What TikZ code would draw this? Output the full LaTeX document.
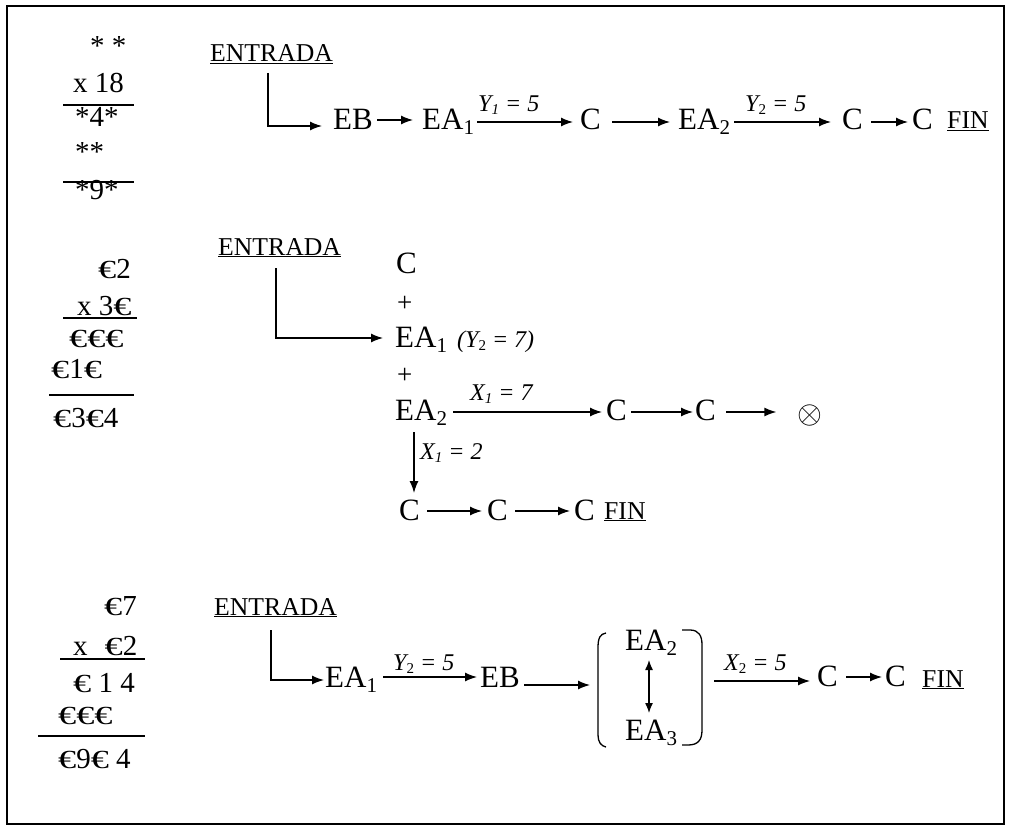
\documentclass[tikz,border=0pt]{standalone}
\usepackage{fontspec}
\setmainfont{Liberation Serif}
\usetikzlibrary{arrows.meta}
\newcommand\eur{\scalebox{1.25}[0.9]{€}}
\newcommand\sbig[1]{\raisebox{-5pt}{\fontsize{21}{21}\selectfont #1}}
\newcommand\ssm[1]{\raisebox{-3pt}{\fontsize{15}{15}\selectfont #1}}
\begin{document}
\begin{tikzpicture}[x=1pt,y=1pt,
  big/.style={inner sep=0pt, anchor=base west, font=\fontsize{31}{36}\selectfont},
  ent/.style={inner sep=0pt, anchor=base west, font=\fontsize{25.7}{30}\selectfont},
  lab/.style={inner sep=0pt, anchor=base west, font=\fontsize{24}{28}\selectfont\itshape},
  labs/.style={inner sep=0pt, anchor=base west, font=\fontsize{24}{28}\selectfont\itshape},
  num/.style={inner sep=0pt, anchor=base west, font=\fontsize{29}{34}\selectfont},
  pl/.style={inner sep=0pt, anchor=base west, font=\fontsize{27}{30}\selectfont},
  ox/.style={inner sep=0pt, anchor=center, font=\normalsize},
  arr/.style={-{Latex[length=12pt,width=9pt]}, line width=1.3pt},
  darr/.style={{Latex[length=10pt,width=8pt]}-{Latex[length=10pt,width=8pt]}, line width=1.3pt},
  rulel/.style={line width=1.3pt},
  brk/.style={line width=1.3pt}]
\useasboundingbox (0,0) rectangle (1011,-826);
\draw[line width=1.5pt] (7,-6) rectangle (1004,-824);

% ---------- section 1 ----------
\node[num] (a1) at (90,-56) {* *};
\node[num] (a2) at (73,-93) {x 18};
\draw[rulel] (63,-105) -- (134,-105);
\node[num] (a3) at (75,-127) {*4*};
\node[num] (a4) at (75,-162) {**};
\draw[rulel] (63,-182) -- (134,-182);
\node[num] (a5) at (75,-200) {*9*};

\node[ent] (e1) at (210,-62) {\underline{ENTRADA}};
\node[big] (eb1) at (333,-130) {EB};
\node[big] (ea11) at (422,-130) {EA\sbig{1}};
\node[big] (c11) at (580,-130) {C};
\node[big] (ea21) at (678,-130) {EA\sbig{2}};
\node[big] (c12) at (842,-130) {C};
\node[big] (c13) at (912,-130) {C};
\node[ent] (f1) at (947,-129) {\underline{FIN}};
\node[lab] (l11) at (478,-112) {Y\ssm{1} = 5};
\node[lab] (l12) at (745,-112) {Y\ssm{\upshape 2} = 5};

\draw[arr] ([shift={(58,-11)}]e1.base west) |- ([shift={(-11,4)}]eb1.base west);
\draw[arr] ([shift={(4,10)}]eb1.base east) -- ([shift={(-9,10)}]ea11.base west);
\draw[arr] ([shift={(3,8)}]ea11.base east) -- ([shift={(-7,8)}]c11.base west);
\draw[arr] ([shift={(11,8)}]c11.base east) -- ([shift={(-8,8)}]ea21.base west);
\draw[arr] ([shift={(4,8)}]ea21.base east) -- ([shift={(-11,8)}]c12.base west);
\draw[arr] ([shift={(8,8)}]c12.base east) -- ([shift={(-4,8)}]c13.base west);

% ---------- section 2 ----------
\node[num] (b1) at (98,-278) {\eur2};
\node[num] (b2) at (77,-315) {x 3\eur};
\draw[rulel] (63,-318) -- (137,-318);
\node[num] (b3) at (69,-347) {\eur\eur\eur};
\node[num] (b4) at (51,-378) {\eur1\eur};
\draw[rulel] (49,-395) -- (134,-395);
\node[num] (b5) at (53,-427) {\eur3\eur4};

\node[ent] (e2) at (218,-255) {\underline{ENTRADA}};
\node[big] (cA) at (396,-273) {C};
\node[pl] (p1) at (397,-311) {+};
\node[big] (ea12) at (395,-347) {EA\sbig{1}};
\node[labs] (l21) at (457,-347) {(Y\ssm{\upshape 2} = 7)};
\node[pl] (p2) at (397,-383) {+};
\node[big] (ea22) at (395,-420) {EA\sbig{2}};
\node[lab] (l22) at (470,-400) {X\ssm{1} = 7};
\node[big] (c21) at (606,-420) {C};
\node[big] (c22) at (695,-420) {C};
\node[ox] (ot) at (810,-415) {\scalebox{3.2}{$\otimes$}};
\node[lab] (l23) at (420,-459) {X\ssm{1} = 2};
\node[big] (c23) at (399,-520) {C};
\node[big] (c24) at (487,-520) {C};
\node[big] (c25) at (574,-520) {C};
\node[ent] (f2) at (604,-519) {\underline{FIN}};

\draw[arr] ([shift={(58,-13)}]e2.base west) |- ([shift={(-12,9)}]ea12.base west);
\draw[arr] ([shift={(6,8)}]ea22.base east) -- ([shift={(-4,8)}]c21.base west);
\draw[arr] ([shift={(4,8)}]c21.base east) -- ([shift={(-2,8)}]c22.base west);
\draw[arr] ([shift={(10,8)}]c22.base east) -- ([shift={(-21,3)}]ot.west);
\draw[arr] ([shift={(19,-12)}]ea22.base west) -- ([shift={(15,27)}]c23.base west);
\draw[arr] ([shift={(7,9)}]c23.base east) -- ([shift={(-5,9)}]c24.base west);
\draw[arr] ([shift={(7,9)}]c24.base east) -- ([shift={(-4,9)}]c25.base west);

% ---------- section 3 ----------
\node[num] (d1) at (104,-615) {\eur7};
\node[num] (d2) at (73,-655) {x\hspace{17pt}\eur2};
\draw[rulel] (60,-659) -- (145,-659);
\node[num] (d3) at (73,-692) {\eur\ 1 4};
\node[num] (d4) at (58,-724) {\eur\eur\eur};
\draw[rulel] (38,-736) -- (145,-736);
\node[num] (d5) at (58,-768) {\eur9\eur\ 4};

\node[ent] (e3) at (214,-615) {\underline{ENTRADA}};
\node[big] (ea13) at (325,-687) {EA\sbig{1}};
\node[lab] (l31) at (393,-670) {Y\ssm{\upshape 2} = 5};
\node[big] (eb3) at (480,-687) {EB};
\node[big] (ea23) at (625,-650) {EA\sbig{2}};
\node[big] (ea33) at (625,-740) {EA\sbig{3}};
\coordinate (brl) at (598,-685);
\coordinate (brr) at (702,-681);
\node[lab] (l32) at (724,-670) {X\ssm{\upshape 2} = 5};
\node[big] (c31) at (817,-686) {C};
\node[big] (c32) at (885,-686) {C};
\node[ent] (f3) at (922,-687) {\underline{FIN}};

\draw[brk] (606,-633) .. controls (600,-634) and (598,-638) .. (598,-648) -- (598,-735) .. controls (598,-742) and (601,-746) .. (606,-747);
\draw[brk] (682,-630) -- (690,-630) .. controls (699,-630) and (702,-636) .. (702,-645) -- (702,-730) .. controls (702,-740) and (698,-745) .. (688,-745) -- (682,-745);

\draw[arr] ([shift={(57,-15)}]e3.base west) |- ([shift={(-1,7)}]ea13.base west);
\draw[arr] ([shift={(58,10)}]ea13.base west) -- ([shift={(-3,10)}]eb3.base west);
\draw[arr] ([shift={(44,2)}]eb3.base west) -- ([xshift=-8pt]brl);
\draw[darr] ([shift={(24,-10)}]ea23.base west) -- ([shift={(24,27)}]ea33.base west);
\draw[arr] ([xshift=12pt]brr) -- ([shift={(-7,5)}]c31.base west);
\draw[arr] ([shift={(8,9)}]c31.base east) -- ([shift={(-3,9)}]c32.base west);
\end{tikzpicture}
\end{document}
